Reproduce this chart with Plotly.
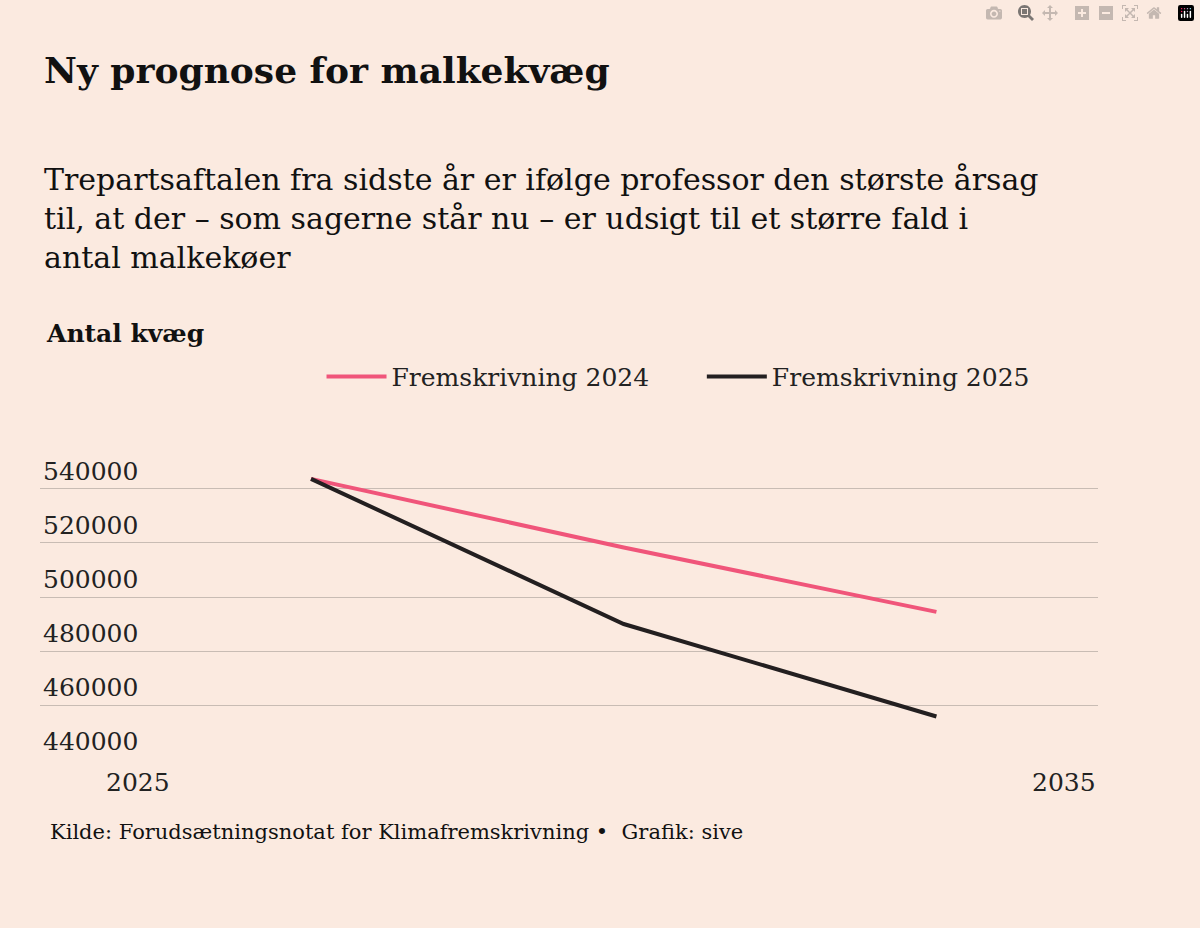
import plotly.graph_objects as go

years = [2027, 2030, 2033]
fremskrivning_2024 = [543700, 518300, 494500]
fremskrivning_2025 = [543700, 490000, 455800]
y_ticks = [440000, 460000, 480000, 500000, 520000, 540000, 560000]
x_labels = ["2025", "2035"]

bg = "#fbeae0"
serif = "DejaVu Serif"
fig = go.Figure()
fig.add_trace(go.Scatter(x=years, y=fremskrivning_2024, mode="lines", name="Fremskrivning 2024      ",
                         line=dict(color="#f0557a", width=4)))
fig.add_trace(go.Scatter(x=years, y=fremskrivning_2025, mode="lines", name="Fremskrivning 2025",
                         line=dict(color="#231f20", width=4)))

fig.update_layout(
    width=1200, height=928, paper_bgcolor=bg, plot_bgcolor=bg,
    margin=dict(l=40, r=102, t=434, b=168),
    font=dict(family=serif, color="#111", size=25),
    showlegend=True,
    legend=dict(orientation="h", x=0.94, xanchor="right", y=1.105, yanchor="bottom",
                font=dict(size=25, color="#222"), bgcolor="rgba(0,0,0,0)", itemwidth=60),
    xaxis=dict(range=[2024.4, 2034.55], showgrid=False, showticklabels=False, zeroline=False),
    yaxis=dict(range=[439700, 560300], tickvals=y_ticks, ticklabelposition="inside top",
               gridcolor="#c8bcb4", gridwidth=1, zeroline=False, tickfont=dict(size=25, color="#222"),
               tickformat="d"),
)
ann = [
    dict(text="<b>Ny prognose for malkekvæg</b>", x=42, y=70, size=36),
    dict(text="Trepartsaftalen fra sidste år er ifølge professor den største årsag<br>til, at der – som sagerne står nu – er udsigt til et større fald i<br>antal malkekøer", x=42, y=218, size=30),
    dict(text="<b>Antal kvæg</b>", x=44, y=333, size=25),
    dict(text="Kilde: Forudsætningsnotat for Klimafremskrivning •  Grafik: sive", x=48, y=832, size=21),
]
for a in ann:
    fig.add_annotation(text=a["text"], xref="paper", yref="paper",
                       x=(a["x"] - 40) / 1058, y=(760 - a["y"]) / 326,
                       xanchor="left", yanchor="middle", showarrow=False, align="left",
                       font=dict(family=serif, size=a["size"], color="#111"))
for lbl, px in zip(x_labels, [138, 1064]):
    fig.add_annotation(text=lbl, xref="paper", yref="paper", x=(px - 40) / 1058, y=(760 - 782) / 326,
                       xanchor="center", yanchor="middle", showarrow=False,
                       font=dict(family=serif, size=25, color="#222"))
fig.write_html("out.html", post_script="document.body.style.margin='0';document.body.style.background='%s';" % bg)
